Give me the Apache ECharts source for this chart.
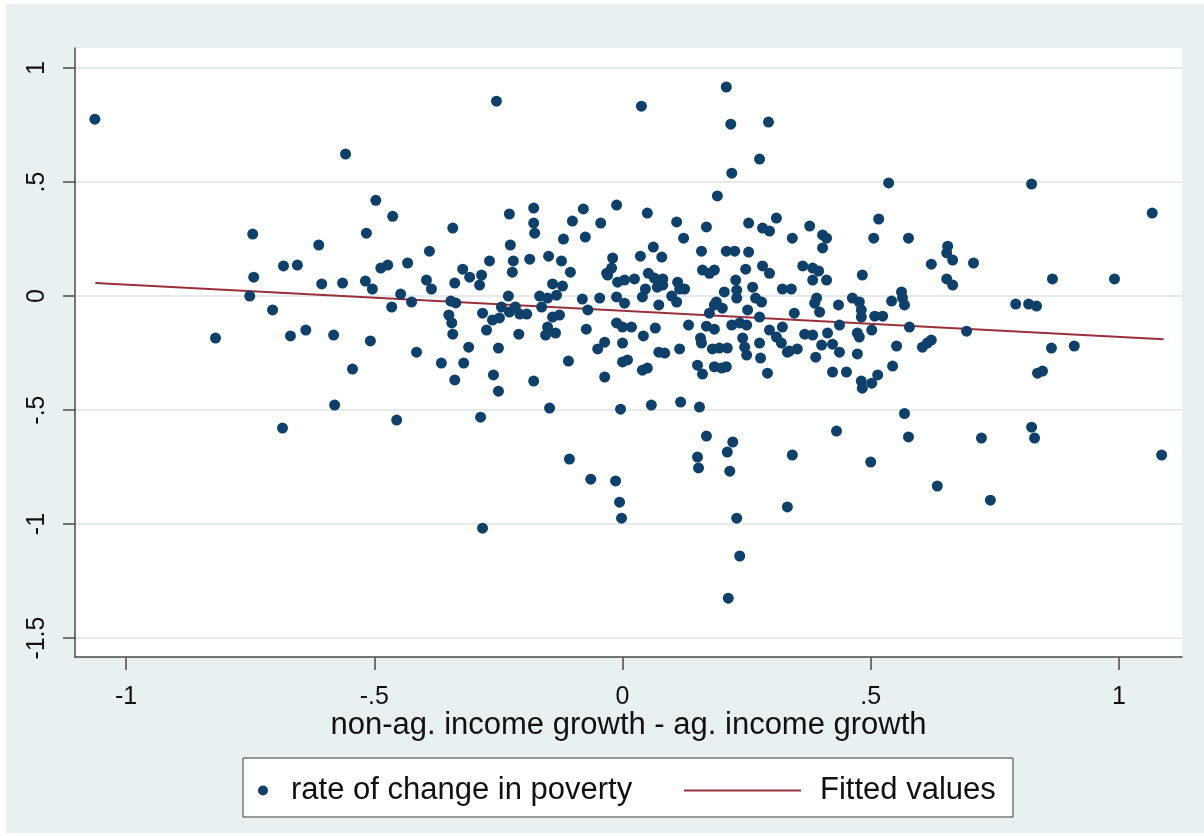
<!DOCTYPE html>
<html><head><meta charset="utf-8">
<script src="https://cdn.jsdelivr.net/npm/echarts@6/dist/echarts.min.js"></script>
<style>
html,body{margin:0;padding:0;background:#fff;}
#bg{position:absolute;left:6px;top:4px;width:1198px;height:829px;background:#e9f0f1;}
#chart{position:absolute;left:0;top:0;width:1204px;height:836px;}
</style></head><body>
<div id="bg"></div><div id="chart"></div>
<script>
// [x, y] pairs: x = non-ag. income growth - ag. income growth, y = rate of change in poverty
const pointsLeft = [[-1.063,0.776],[-0.558,0.623],[-0.745,0.272],[-0.612,0.224],[-0.516,0.276],[-0.497,0.42],[-0.463,0.35],[-0.683,0.132],[-0.655,0.136],[-0.487,0.123],[-0.473,0.136],[-0.743,0.083],[-0.606,0.053],[-0.564,0.057],[-0.518,0.066],[-0.504,0.031],[-0.751,0.0],[-0.447,0.009],[-0.433,0.145],[-0.425,-0.026],[-0.705,-0.061],[-0.465,-0.048],[-0.820,-0.184],[-0.669,-0.175],[-0.638,-0.149],[-0.582,-0.171],[-0.508,-0.197],[-0.544,-0.32],[-0.580,-0.478],[-0.685,-0.579],[-0.455,-0.544],[-0.415,-0.246]];
const pointsCenterLeft = [[-0.179,0.386],[-0.228,0.36],[-0.079,0.382],[-0.101,0.329],[-0.044,0.32],[-0.342,0.298],[-0.179,0.32],[-0.177,0.276],[-0.119,0.25],[-0.075,0.259],[-0.389,0.197],[-0.226,0.224],[-0.268,0.154],[-0.220,0.154],[-0.222,0.105],[-0.187,0.162],[-0.149,0.175],[-0.123,0.154],[-0.105,0.105],[-0.032,0.1],[-0.322,0.118],[-0.308,0.083],[-0.284,0.092],[-0.288,0.048],[-0.395,0.07],[-0.385,0.031],[-0.338,0.057],[-0.141,0.053],[-0.121,0.044],[-0.167,0.0],[-0.230,0.0],[-0.133,0.004],[-0.081,-0.013],[-0.046,-0.009],[-0.346,-0.022],[-0.336,-0.03],[-0.244,-0.048],[-0.216,-0.048],[-0.228,-0.07],[-0.207,-0.079],[-0.193,-0.079],[-0.163,-0.048],[-0.151,-0.009],[-0.141,-0.092],[-0.127,-0.083],[-0.07,-0.061],[-0.282,-0.075],[-0.350,-0.083],[-0.344,-0.118],[-0.342,-0.167],[-0.262,-0.105],[-0.248,-0.096],[-0.274,-0.149],[-0.209,-0.167],[-0.151,-0.136],[-0.155,-0.171],[-0.135,-0.162],[-0.073,-0.145],[-0.310,-0.224],[-0.250,-0.228],[-0.05,-0.232],[-0.036,-0.202],[-0.365,-0.294],[-0.320,-0.294],[-0.109,-0.285],[-0.036,-0.355],[-0.260,-0.346],[-0.338,-0.368],[-0.179,-0.373],[-0.250,-0.417],[-0.147,-0.491],[-0.286,-0.531],[-0.282,-1.018],[-0.254,0.855],[-0.107,-0.715],[-0.064,-0.803],[-0.014,-0.811],[-0.006,-0.904],[-0.002,-0.974],[-0.004,-0.496]];
const pointsCenterLow = [[0.0,-0.206],[0.0,-0.289],[0.01,-0.28],[0.042,-0.175],[0.066,-0.14],[0.04,-0.325],[0.05,-0.316],[0.073,-0.246],[0.085,-0.25],[0.058,-0.478],[0.115,-0.232],[0.117,-0.465],[0.133,-0.127],[0.155,-0.487],[0.151,-0.303],[0.161,-0.342],[0.157,-0.184],[0.169,-0.614],[0.151,-0.706],[0.153,-0.754],[0.185,-0.31],[0.2,-0.316],[0.209,-0.31],[0.181,-0.232],[0.211,-0.228],[0.211,-0.684],[0.222,-0.64],[0.216,-0.768],[0.23,-0.974],[0.236,-1.14],[0.213,-1.325],[0.25,-0.259],[0.278,-0.272],[0.292,-0.338],[0.342,-0.697],[0.332,-0.925],[0.332,-0.246]];
const pointsCenterHigh = [[0.191,0.439],[-0.012,0.399],[0.05,0.364],[0.109,0.325],[0.169,0.303],[0.254,0.32],[0.31,0.342],[0.282,0.298],[0.296,0.285],[0.123,0.254],[0.062,0.215],[0.079,0.171],[0.036,0.175],[-0.02,0.167],[0.159,0.197],[0.209,0.197],[0.226,0.197],[0.254,0.193],[-0.022,0.123],[-0.03,0.092],[0.161,0.114],[0.175,0.1],[0.185,0.114],[0.248,0.118],[0.282,0.132],[0.296,0.1],[0.052,0.1],[-0.01,0.061],[0.004,0.07],[0.024,0.075],[0.064,0.079],[0.081,0.075],[0.111,0.061],[0.228,0.07],[0.322,0.031],[0.046,0.031],[0.07,0.039],[0.081,0.048],[0.115,0.031],[0.125,0.031],[0.23,0.026],[0.262,0.039],[0.205,0.018],[-0.012,-0.004],[0.04,-0.004],[0.099,0.0],[0.109,-0.026],[0.268,-0.009],[0.189,-0.026],[0.23,-0.009],[0.004,-0.031],[0.073,-0.039],[0.185,-0.039],[0.201,-0.053],[0.28,-0.026],[0.175,-0.075],[0.252,-0.061],[0.276,-0.092],[-0.012,-0.118],[0.0,-0.136],[0.018,-0.136],[0.169,-0.132],[0.185,-0.145],[0.22,-0.127],[0.236,-0.118],[0.25,-0.127],[0.296,-0.149],[0.31,-0.18],[0.322,-0.136],[0.159,-0.206],[0.242,-0.184],[0.246,-0.224],[0.276,-0.206],[0.195,-0.228],[0.038,0.833],[0.209,0.917],[0.218,0.754],[0.294,0.763],[0.276,0.601],[0.22,0.539]];
const pointsRight = [[0.516,0.338],[0.377,0.307],[0.342,0.254],[0.403,0.268],[0.411,0.254],[0.403,0.211],[0.506,0.254],[0.576,0.254],[0.655,0.219],[0.653,0.189],[0.665,0.158],[0.622,0.14],[0.653,0.075],[0.665,0.048],[0.363,0.132],[0.383,0.123],[0.395,0.11],[0.383,0.07],[0.411,0.07],[0.483,0.092],[0.34,0.031],[0.391,-0.009],[0.387,-0.031],[0.397,-0.07],[0.346,-0.075],[0.435,-0.039],[0.463,-0.009],[0.477,-0.026],[0.481,-0.061],[0.481,-0.092],[0.542,-0.022],[0.562,0.018],[0.564,-0.009],[0.568,-0.039],[0.508,-0.088],[0.524,-0.088],[0.437,-0.127],[0.578,-0.136],[0.693,-0.154],[0.502,-0.149],[0.367,-0.167],[0.383,-0.171],[0.413,-0.162],[0.473,-0.162],[0.477,-0.18],[0.32,-0.206],[0.401,-0.215],[0.423,-0.211],[0.336,-0.241],[0.352,-0.232],[0.437,-0.246],[0.389,-0.268],[0.473,-0.254],[0.552,-0.219],[0.604,-0.224],[0.614,-0.206],[0.622,-0.193],[0.423,-0.333],[0.451,-0.333],[0.544,-0.307],[0.481,-0.373],[0.483,-0.404],[0.502,-0.382],[0.514,-0.346],[0.568,-0.515],[0.431,-0.592],[0.576,-0.618],[0.5,-0.728],[0.723,-0.623],[0.824,-0.575],[0.83,-0.623],[0.634,-0.833],[0.741,-0.895],[1.086,-0.697],[0.864,-0.228],[0.91,-0.219],[0.836,-0.338],[0.846,-0.329],[0.792,-0.035],[0.818,-0.035],[0.834,-0.044],[0.536,0.496],[0.824,0.491],[1.067,0.364],[0.707,0.145],[0.866,0.075],[0.991,0.075]];

const fitX = [-1.062, 1.09];
const fitY = [0.057, -0.189];
const xTicks = [-1, -0.5, 0, 0.5, 1];
const yTicks = [-1.5, -1, -0.5, 0, 0.5, 1];
const xRange = [-1.103, 1.127];
const yRange = [-1.583, 1.088];
const seriesNames = ['rate of change in poverty', 'Fitted values'];
const xTitle = 'non-ag. income growth - ag. income growth';

const FONT = '"Liberation Sans", Arial, Helvetica, sans-serif';
const fmt = v => String(v).replace(/^(-?)0\./, '$1.');

const scatterData = [].concat(pointsLeft, pointsCenterLeft, pointsCenterLow, pointsCenterHigh, pointsRight);
const fitData = fitX.map((x, i) => [x, fitY[i]]);

const chart = echarts.init(document.getElementById('chart'), null, {renderer: 'canvas'});
chart.setOption({
  animation: false,
  backgroundColor: 'transparent',
  grid: {left: 75, right: 22, top: 48, bottom: 179, show: true, backgroundColor: '#ffffff', borderWidth: 0},
  graphic: [{
    type: 'rect', z: 0,
    shape: {x: 243, y: 758, width: 770, height: 59},
    style: {fill: '#ffffff', stroke: '#3a3a3a', lineWidth: 1}
  }],
  legend: [{
    data: [{name: seriesNames[0], icon: 'circle'}],
    left: 258, top: 775, padding: 0,
    itemWidth: 46, itemHeight: 10,
    textStyle: {fontFamily: FONT, fontSize: 31, color: '#111'},
    selectedMode: false
  }, {
    data: [{name: seriesNames[1], itemStyle: {opacity: 0}}],
    left: 683, top: 775, padding: 0,
    itemWidth: 117, itemHeight: 9,
    itemStyle: {opacity: 0},
    lineStyle: {color: '#98303a', width: 2},
    textStyle: {fontFamily: FONT, fontSize: 31, color: '#111', padding: [0, 0, 0, 14]},
    selectedMode: false
  }],
  xAxis: {
    type: 'value', min: xRange[0], max: xRange[1],
    name: xTitle, nameLocation: 'middle', nameGap: 53, nameMoveOverlap: false,
    nameTextStyle: {fontFamily: FONT, fontSize: 31, color: '#111'},
    axisLine: {show: true, onZero: false, lineStyle: {color: '#4a4a4a', width: 1.5}},
    axisTick: {show: true, length: 13, customValues: xTicks, lineStyle: {color: '#4a4a4a', width: 1.5}},
    axisLabel: {customValues: xTicks, formatter: fmt, fontFamily: FONT, fontSize: 25, color: '#111', margin: 28},
    splitLine: {show: false}
  },
  yAxis: {
    type: 'value', min: yRange[0], max: yRange[1],
    axisLine: {show: true, onZero: false, lineStyle: {color: '#4a4a4a', width: 1.5}},
    axisTick: {show: true, length: 12, customValues: yTicks, lineStyle: {color: '#4a4a4a', width: 1.5}},
    axisLabel: {customValues: yTicks, formatter: fmt, rotate: 90, fontFamily: FONT, fontSize: 25, color: '#111', margin: 25},
    splitLine: {show: true, lineStyle: {color: '#e5ebeb', width: 2}}
  },
  series: [{
    name: seriesNames[0], type: 'scatter', z: 3,
    symbol: 'circle', symbolSize: 11,
    itemStyle: {color: '#0f4069', opacity: 1},
    emphasis: {disabled: true},
    data: scatterData
  }, {
    name: seriesNames[1], type: 'line', z: 2,
    symbol: 'none', showSymbol: false,
    itemStyle: {color: '#98303a'},
    lineStyle: {color: '#98303a', width: 2},
    emphasis: {disabled: true},
    data: fitData
  }]
});
</script>
</body></html>
